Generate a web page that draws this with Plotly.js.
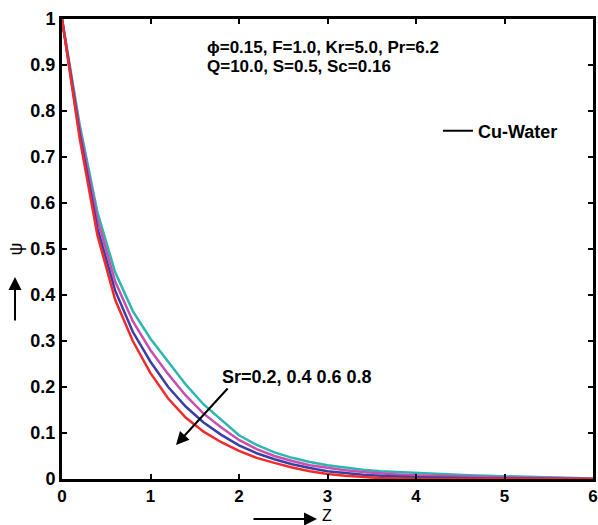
<!DOCTYPE html>
<html>
<head>
<meta charset="utf-8">
<script src="https://cdn.plot.ly/plotly-3.0.1.min.js"></script>
<style>html,body{margin:0;padding:0;background:#fff;}#chart{width:598px;height:525px;}</style>
</head>
<body>
<div id="chart"></div>
<script>
// Z grid
const zValues = [0,0.2,0.4,0.6,0.8,1.0,1.2,1.4,1.6,1.8,2.0,2.2,2.4,2.6,2.8,3.0,3.2,3.4,3.6,3.8,4.0,4.2,4.4,4.6,4.8,5.0,5.2,5.4,5.6,5.8,6.0];
// psi for Sr = 0.2, 0.4, 0.6, 0.8
const psiSr02 = [1.0,0.74,0.53,0.39,0.30,0.23,0.175,0.133,0.103,0.080,0.061,0.046,0.035,0.025,0.017,0.011,0.007,0.004,0.002,0.001,0,0,0,0,0,0,0,0,0,0,0];
const psiSr04 = [1.0,0.75,0.545,0.41,0.32,0.255,0.20,0.157,0.123,0.096,0.073,0.056,0.043,0.032,0.024,0.017,0.013,0.009,0.007,0.005,0.004,0.003,0.002,0.002,0.001,0.001,0.001,0,0,0,0];
const psiSr06 = [1.0,0.76,0.565,0.43,0.343,0.28,0.228,0.181,0.142,0.112,0.085,0.065,0.050,0.039,0.030,0.024,0.019,0.015,0.012,0.010,0.008,0.007,0.006,0.005,0.004,0.003,0.003,0.002,0.002,0.001,0];
const psiSr08 = [1.0,0.77,0.58,0.45,0.365,0.305,0.255,0.205,0.162,0.128,0.095,0.074,0.058,0.046,0.037,0.030,0.025,0.020,0.017,0.015,0.013,0.011,0.009,0.008,0.007,0.006,0.005,0.004,0.003,0.002,0.001];
const seriesNames = ['Sr=0.8','Sr=0.6','Sr=0.4','Sr=0.2'];
const seriesColors = ['#2bb6b0','#c84fae','#3a3fa6','#f22a2a'];
const xTickVals = [0,1,2,3,4,5,6];
const yTickVals = [0,0.1,0.2,0.3,0.4,0.5,0.6,0.7,0.8,0.9,1];
const paramLine1 = 'ϕ=0.15, F=1.0, Kr=5.0, Pr=6.2';
const paramLine2 = 'Q=10.0, S=0.5, Sc=0.16';
const srLabel = 'Sr=0.2, 0.4 0.6 0.8';
const legendLabel = 'Cu-Water';
const xTitle = 'Z';
const yTitle = 'ψ';

const ys = [psiSr08, psiSr06, psiSr04, psiSr02];
const FONT = 'Liberation Sans, Arial, sans-serif';
const traces = ys.map((y, i) => ({
  x: zValues, y: y, type: 'scatter', mode: 'lines', name: seriesNames[i],
  line: {color: seriesColors[i], width: 2.5}, showlegend: false, hoverinfo: 'skip'
}));
traces.push({x: [null], y: [null], type: 'scatter', mode: 'lines', name: legendLabel,
  line: {color: '#000', width: 2}, showlegend: true});

const axisCommon = {
  showgrid: false, zeroline: false, showline: true, linecolor: '#000', linewidth: 3,
  mirror: 'ticks', ticks: 'inside', ticklen: 5, tickwidth: 2, tickcolor: '#000',
  ticklabeloverflow: 'allow',
  tickfont: {family: FONT, size: 18, color: '#000', weight: 'bold'}
};
const layout = {
  width: 598, height: 525,
  margin: {l: 62, r: 5, t: 19, b: 46},
  paper_bgcolor: '#fff', plot_bgcolor: '#fff',
  xaxis: Object.assign({}, axisCommon, {range: [0, 6], tickvals: xTickVals, ticktext: xTickVals.map(String),
    tickfont: {family: FONT, size: 17, color: '#000', weight: 'bold'}, automargin: false}),
  yaxis: Object.assign({}, axisCommon, {range: [0, 1], tickvals: yTickVals, ticktext: yTickVals.map(String),
    title: {text: yTitle, font: {family: FONT, size: 18, color: '#000'}, standoff: 4}, automargin: false}),
  showlegend: true,
  legend: {x: 0.708, y: 0.7565, xanchor: 'left', yanchor: 'middle', bgcolor: 'rgba(0,0,0,0)', borderwidth: 0,
    font: {family: FONT, size: 18, color: '#000', weight: 'bold'}},
  annotations: [
    {xref: 'x', yref: 'y', x: 1.616, y: 0.939, xanchor: 'left', yanchor: 'middle', showarrow: false,
     text: paramLine1, font: {family: FONT, size: 17, color: '#000', weight: 'bold'}},
    {xref: 'x', yref: 'y', x: 1.616, y: 0.896, xanchor: 'left', yanchor: 'middle', showarrow: false,
     text: paramLine2, font: {family: FONT, size: 17, color: '#000', weight: 'bold'}},
    {xref: 'x', yref: 'y', x: 1.785, y: 0.222, xanchor: 'left', yanchor: 'middle', showarrow: false,
     text: srLabel, font: {family: FONT, size: 18, color: '#000', weight: 'bold'}},
    {xref: 'paper', yref: 'paper', x: 0.499, y: -0.1, xanchor: 'center', yanchor: 'bottom', showarrow: false,
     borderpad: 0, text: xTitle, font: {family: FONT, size: 16, color: '#000'}},
    {xref: 'x', yref: 'y', x: 1.288, y: 0.074, ax: 53, ay: -58, text: '', showarrow: true,
     arrowhead: 2, arrowsize: 1.3, arrowwidth: 2, arrowcolor: '#000'},
    {xref: 'paper', yref: 'paper', x: 0.4802, y: -0.087, ax: -65, ay: 0, text: '', showarrow: true,
     arrowhead: 2, arrowsize: 1.3, arrowwidth: 2, arrowcolor: '#000'},
    {xref: 'paper', yref: 'paper', x: -0.0885, y: 0.439, ax: 0, ay: 45, text: '', showarrow: true,
     arrowhead: 2, arrowsize: 1.3, arrowwidth: 2, arrowcolor: '#000'}
  ]
};
Plotly.newPlot('chart', traces, layout, {staticPlot: true, displayModeBar: false});
</script>
</body>
</html>
